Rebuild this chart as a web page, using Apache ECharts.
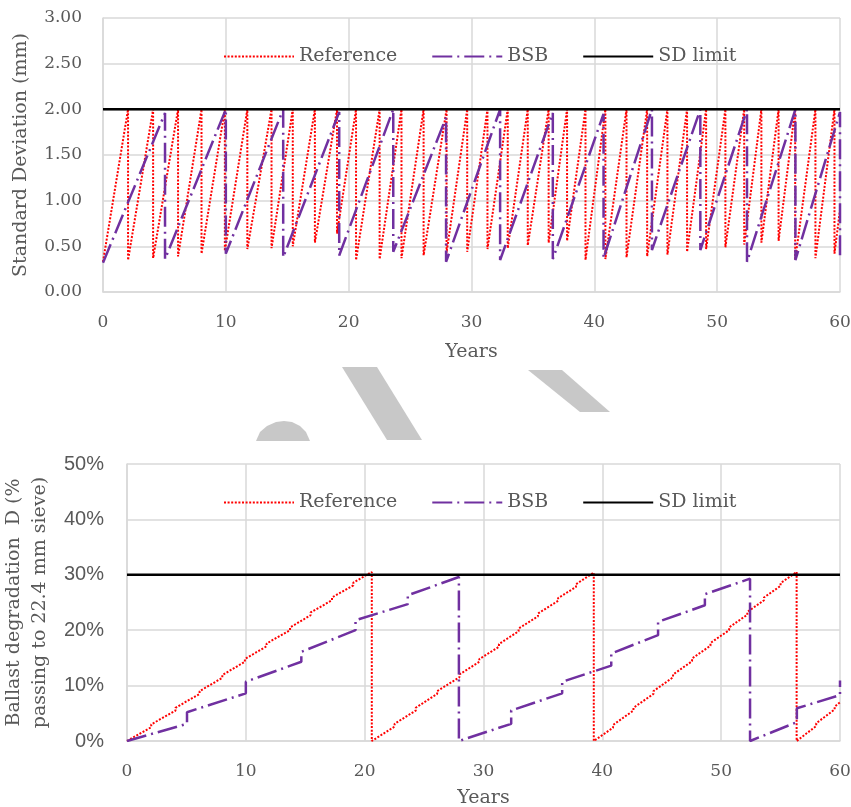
<!DOCTYPE html>
<html><head><meta charset="utf-8">
<script src="https://cdn.jsdelivr.net/npm/echarts@6/dist/echarts.min.js"></script>
<style>html,body{margin:0;padding:0;background:#fff}#c{width:851px;height:807px}</style>
</head><body><div id="c"></div>
<script>
// ---------- data ----------
const xMin = 0, xMax = 60, xStep = 10;
const sdTicks = {min: 0, max: 3, step: 0.5};
const dTicks = {min: 0, max: 50, step: 10};
const seriesNames = ['Reference', 'BSB', 'SD limit'];
const sdLimit = 2.0;      // mm
const dLimit = 30;        // %

// Reference: intervention times (years)
const refTimes = [2.04,4.08,6.11,8.02,9.92,11.75,13.72,15.45,17.25,19.05,20.6,
  22.52,24.3,26.1,27.97,29.65,31.3,32.95,34.58,36.28,37.78,39.28,
  40.9,42.62,44.3,45.95,47.55,49.1,50.67,52.2,53.6,55.0,56.35,
  58.0,59.55];
const refSDStart = 0.33;
const refSDLow = [0.35,0.37,0.39,0.42,0.45,0.47,0.48,0.50,0.54,0.64,0.35,
  0.36,0.37,0.40,0.43,0.44,0.47,0.48,0.51,0.54,0.56,0.35,
  0.36,0.38,0.39,0.41,0.44,0.47,0.49,0.52,0.54,0.56,0.35,
  0.37,0.42];
const refSDEnd = 0.9;
const refDStart = 0;
const refDBefore = [2.5,5.5,8.5,11.4,14.3,17.1,20.0,22.7,25.4,28.1,30.5,
  2.6,5.5,8.5,11.5,14.3,17.0,19.8,22.5,25.3,27.8,30.4,
  2.4,5.5,8.5,11.5,14.4,17.2,20.0,22.8,25.4,28.0,30.5,
  2.7,5.7];
const refDAfter = [3.0,6.0,9.0,11.9,14.8,17.6,20.5,23.2,25.9,28.6,0,
  3.1,6.0,9.0,12.0,14.8,17.5,20.3,23.0,25.8,28.3,0,
  2.9,6.0,9.0,12.0,14.9,17.7,20.5,23.3,25.9,28.5,0,
  3.2,6.2];
const refDEnd = 7.0;

// BSB: intervention times (years)
const bsbTimes = [5.05,10.0,14.67,19.23,23.63,27.93,32.33,36.62,40.75,44.69,48.63,52.43,56.37,60.0];
const bsbSDStart = 0.32;
const bsbSDPeak = [1.96,2.0,2.0,1.97,2.0,1.91,2.0,1.96,1.95,2.0,2.0,2.0,2.0,1.97];
const bsbSDLow  = [0.36,0.42,0.38,0.40,0.44,0.33,0.35,0.36,0.37,0.46,0.46,0.33,0.35,0.38];
const bsbDStart = 0;
const bsbDBefore = [3.1,8.6,14.3,20.0,24.7,29.6,3.1,8.6,13.6,19.1,24.5,29.3,3.4,8.3];
const bsbDAfter  = [5.2,10.7,16.1,21.8,26.3,0,5.5,10.7,15.8,21.5,26.5,0,5.9,10.9];

// ---------- build series points from the arrays ----------
function saw(start, times, before, after, end) {
  const pts = [[xMin, start]];
  times.forEach((t, i) => { pts.push([t, before[i]]); pts.push([t, after[i]]); });
  if (end !== null && end !== undefined) pts.push([xMax, end]);
  return pts;
}
const refSD = saw(refSDStart, refTimes, refTimes.map(() => sdLimit), refSDLow, refSDEnd);
const bsbSD = saw(bsbSDStart, bsbTimes, bsbSDPeak, bsbSDLow, null);
const refD = saw(refDStart, refTimes, refDBefore, refDAfter, refDEnd);
const bsbD = saw(bsbDStart, bsbTimes, bsbDBefore, bsbDAfter, null);
const sdLim = [[xMin, sdLimit], [xMax, sdLimit]];
const dLim = [[xMin, dLimit], [xMax, dLimit]];

// ---------- styles ----------
const SERIF = 'DejaVu Serif';
const SANS = 'Liberation Sans';
const TXT = '#595959';
const GRID = '#D9D9D9';
const refStyle = {color: '#FF0000', width: 2, type: [2, 1.6], cap: 'butt'};
const bsbStyle = {color: '#7030A0', width: 2.5, type: [20, 5, 2, 5], cap: 'butt'};
const limStyle = {color: '#000000', width: 2.5, type: 'solid'};

function xAxis(gridIndex, gap) {
  return {
    type: 'value', gridIndex, min: xMin, max: xMax, interval: xStep,
    name: 'Years', nameLocation: 'middle', nameGap: gap,
    nameTextStyle: {fontFamily: SERIF, fontSize: 19, color: TXT},
    axisLine: {show: true, lineStyle: {color: GRID, width: 1.5}},
    axisTick: {show: false},
    axisLabel: {fontFamily: SERIF, fontSize: 17, color: TXT, margin: 22},
    splitLine: {show: true, lineStyle: {color: GRID, width: 1.5}}
  };
}
function legend(top) {
  return {data: seriesNames, left: 218, top, itemWidth: 70, itemHeight: 14, itemGap: 34,
    itemStyle: {opacity: 0},
    textStyle: {fontFamily: SERIF, fontSize: 19, color: TXT}};
}

const option = {
  animation: false,
  backgroundColor: '#ffffff',
  graphic: [
    {type: 'polygon', z: -10, shape: {points: [[342,367],[377,367],[422,440],[387,440]]}, style: {fill: '#C8C8C8'}},
    {type: 'polygon', z: -10, shape: {points: [[528,370],[562,370],[610,412],[580,412]]}, style: {fill: '#C8C8C8'}},
    {type: 'polygon', z: -10, shape: {points: [[256,441],[260,432],[267,426],[276,422],[284,421],[292,422],[300,426],[306,432],[310,441]]}, style: {fill: '#C8C8C8'}}
  ],
  grid: [
    {left: 103, top: 18, width: 737, height: 274, outerBoundsMode: 'none', containLabel: false},
    {left: 127, top: 464, width: 713, height: 277, outerBoundsMode: 'none', containLabel: false}
  ],
  legend: [legend(42), legend(488)],
  xAxis: [xAxis(0, 51), xAxis(1, 48)],
  yAxis: [
    {type: 'value', gridIndex: 0, min: sdTicks.min, max: sdTicks.max, interval: sdTicks.step,
     name: 'Standard Deviation (mm)', nameLocation: 'middle', nameGap: 72, nameRotate: 90,
     nameTextStyle: {fontFamily: SERIF, fontSize: 19, color: TXT},
     axisLine: {show: true, lineStyle: {color: GRID, width: 1.5}}, axisTick: {show: false},
     axisLabel: {fontFamily: SERIF, fontSize: 17, color: TXT, margin: 21, formatter: v => v.toFixed(2)},
     splitLine: {show: true, lineStyle: {color: GRID, width: 1.5}}},
    {type: 'value', gridIndex: 1, min: dTicks.min, max: dTicks.max, interval: dTicks.step,
     name: 'Ballast degradation  D (%\npassing to 22.4 mm sieve)', nameLocation: 'middle', nameGap: 66, nameRotate: 90,
     nameTextStyle: {fontFamily: SERIF, fontSize: 19, color: TXT, lineHeight: 26, align: 'center'},
     axisLine: {show: true, lineStyle: {color: GRID, width: 1.5}}, axisTick: {show: false},
     axisLabel: {fontFamily: SANS, fontSize: 20, color: TXT, margin: 23, formatter: '{value}%'},
     splitLine: {show: true, lineStyle: {color: GRID, width: 1.5}}}
  ],
  series: [
    {name: 'Reference', type: 'line', xAxisIndex: 0, yAxisIndex: 0, data: refSD, symbol: 'none', lineStyle: refStyle, itemStyle: {color: refStyle.color}, silent: true},
    {name: 'BSB', type: 'line', xAxisIndex: 0, yAxisIndex: 0, data: bsbSD, symbol: 'none', lineStyle: bsbStyle, itemStyle: {color: bsbStyle.color}, silent: true},
    {name: 'SD limit', type: 'line', xAxisIndex: 0, yAxisIndex: 0, data: sdLim, symbol: 'none', lineStyle: limStyle, itemStyle: {color: limStyle.color}, silent: true},
    {name: 'Reference', type: 'line', xAxisIndex: 1, yAxisIndex: 1, data: refD, symbol: 'none', lineStyle: refStyle, itemStyle: {color: refStyle.color}, silent: true},
    {name: 'BSB', type: 'line', xAxisIndex: 1, yAxisIndex: 1, data: bsbD, symbol: 'none', lineStyle: bsbStyle, itemStyle: {color: bsbStyle.color}, silent: true},
    {name: 'SD limit', type: 'line', xAxisIndex: 1, yAxisIndex: 1, data: dLim, symbol: 'none', lineStyle: limStyle, itemStyle: {color: limStyle.color}, silent: true}
  ]
};
const chart = echarts.init(document.getElementById('c'), null, {renderer: 'canvas'});
chart.setOption(option);
</script>
</body></html>
